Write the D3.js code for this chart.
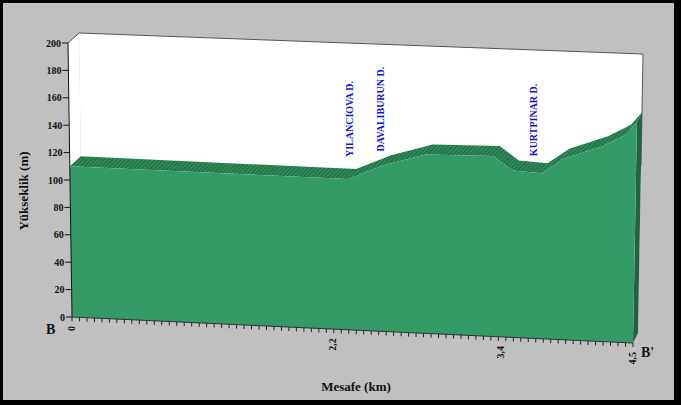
<!DOCTYPE html>
<html><head><meta charset="utf-8">
<script src="https://cdn.jsdelivr.net/npm/d3@7"></script>
<style>body{margin:0;background:#000;} svg{display:block}</style>
</head><body>
<svg id="c" width="681" height="405"></svg>
<script>
// ---- data ----
const profileKm   = [0, 2.30, 2.55, 2.85, 3.33, 3.48, 3.72, 3.90, 4.22, 4.41, 4.5];
const profileElev = [110, 109, 120, 129, 130, 120, 119, 130, 140, 149, 158];
const xTickKm     = [0, 2.2, 3.4, 4.5];
const xTickLabels = ["0", "2,2", "3,4", "4,5"];
const yTicks      = [0, 20, 40, 60, 80, 100, 120, 140, 160, 180, 200];
const streamNames = ["YILANCIOVA D.", "DAVALIBURUN D.", "KURTPINAR D."];
const streamKm    = [2.31, 2.53, 3.65];
const streamElev  = [125, 130, 131];
const minorTickCount = 75;

// ---- setup ----
const W = 681, H = 405;
const svg = d3.select("#c");
const serif = "'Liberation Serif','Times New Roman',serif";

svg.append("rect").attr("width", W).attr("height", H).attr("fill", "#000");
svg.append("rect").attr("x", 3).attr("y", 3).attr("width", 671).attr("height", 397).attr("fill", "#c0c0c0");

// scales: category position (0..1 across the front face) and elevation fraction
const x = d3.scaleLinear().domain(xTickKm).range([0, 0.467, 0.765, 1]);
const y = d3.scaleLinear().domain([0, 200]).range([0, 1]);

// perspective box corners (a: left-bottom, b: left-top, c: right-bottom, d: right-top)
const FRONT = {a: [72, 317], b: [68, 43], c: [633, 343], d: [638, 64]};
const BACK  = {a: [83, 307], b: [79, 33], c: [638, 333], d: [643, 54]};
const lerp = (p, q, t) => [p[0] + (q[0] - p[0]) * t, p[1] + (q[1] - p[1]) * t];
function bil(q, u, v) { return lerp(lerp(q.a, q.c, u), lerp(q.b, q.d, u), v); }
function P(u, v, z) { return lerp(bil(FRONT, u, v), bil(BACK, u, v), z); }
const pts = arr => arr.map(p => p.join(",")).join(" ");

const defs = svg.append("defs");
const pat = defs.append("pattern").attr("id", "hatch").attr("width", 3).attr("height", 3)
  .attr("patternUnits", "userSpaceOnUse").attr("patternTransform", "rotate(45)");
pat.append("rect").attr("width", 3).attr("height", 3).attr("fill", "#2f8a5a");
pat.append("line").attr("x1", 0).attr("y1", 0).attr("x2", 0).attr("y2", 3)
  .attr("stroke", "#1b5636").attr("stroke-width", 1.3);

// walls
svg.append("polygon").attr("points", pts([P(0,0,1), P(0,1,1), P(1,1,1), P(1,0,1)])).attr("fill", "#fff");
svg.append("polygon").attr("points", pts([P(0,0,0), P(0,1,0), P(0,1,1), P(0,0,1)])).attr("fill", "#fff");
svg.append("polyline").attr("points", pts([P(0,1,0), P(0,1,1), P(1,1,1), P(1,0.6,1)]))
  .attr("fill", "none").attr("stroke", "#555").attr("stroke-width", 1);

// series
const front = profileKm.map((k, i) => P(x(k), y(profileElev[i]), 0));
const back  = profileKm.map((k, i) => P(x(k), y(profileElev[i]), 1));
svg.append("polygon").attr("points", pts(front.concat(back.slice().reverse()))).attr("fill", "url(#hatch)");
const last = profileElev.length - 1;
svg.append("polygon").attr("points",
  pts([P(1, y(profileElev[last]), 0), P(1, y(profileElev[last]), 1), P(1, 0, 1), P(1, 0, 0)]))
  .attr("fill", "#1f6340");
svg.append("polygon").attr("points", pts(front.concat([P(1,0,0), P(0,0,0)]))).attr("fill", "#349a68");

// stream labels
streamNames.forEach((n, i) => {
  const p = P(x(streamKm[i]), y(streamElev[i]), 0);
  svg.append("text").attr("transform", `translate(${p[0]},${p[1]}) rotate(-90)`)
    .attr("dominant-baseline", "central").attr("text-anchor", "start")
    .attr("font-family", serif).attr("font-weight", "bold").attr("font-size", 10)
    .attr("fill", "#1010e0").text(n);
});

// y axis
svg.append("line").attr("x1", P(0,0,0)[0]).attr("y1", P(0,0,0)[1]).attr("x2", P(0,1,0)[0]).attr("y2", P(0,1,0)[1])
  .attr("stroke", "#111").attr("stroke-width", 1);
yTicks.forEach(t => {
  const p = P(0, y(t), 0);
  svg.append("line").attr("x1", p[0] - 6).attr("x2", p[0]).attr("y1", p[1]).attr("y2", p[1])
    .attr("stroke", "#111").attr("stroke-width", 1);
  svg.append("text").attr("x", p[0] - 7).attr("y", p[1]).attr("text-anchor", "end")
    .attr("dominant-baseline", "central").attr("font-family", serif).attr("font-weight", "bold")
    .attr("font-size", 10).attr("fill", "#111").text(t);
});

// x axis
svg.append("line").attr("x1", P(0,0,0)[0]).attr("y1", P(0,0,0)[1]).attr("x2", P(1,0,0)[0]).attr("y2", P(1,0,0)[1])
  .attr("stroke", "#333").attr("stroke-width", 1);
d3.range(minorTickCount + 1).forEach(i => {
  const p = P(i / minorTickCount, 0, 0);
  svg.append("line").attr("x1", p[0]).attr("x2", p[0]).attr("y1", p[1]).attr("y2", p[1] + 4)
    .attr("stroke", "#222").attr("stroke-width", 1);
});
xTickKm.forEach((k, i) => {
  const p = P(x(k), 0, 0);
  svg.append("text").attr("transform", `translate(${p[0] - 1},${p[1] + 9}) rotate(-90)`)
    .attr("text-anchor", "end").attr("dominant-baseline", "central")
    .attr("font-family", serif).attr("font-weight", "bold").attr("font-size", 10)
    .attr("fill", "#111").text(xTickLabels[i]);
});

// titles
svg.append("text").attr("x", 356).attr("y", 391).attr("text-anchor", "middle")
  .attr("font-family", serif).attr("font-weight", "bold").attr("font-size", 13).attr("fill", "#111").text("Mesafe (km)");
svg.append("text").attr("transform", "translate(23,191) rotate(-90)").attr("text-anchor", "middle")
  .attr("dominant-baseline", "central").attr("font-family", serif).attr("font-weight", "bold")
  .attr("font-size", 13).attr("fill", "#111").text("Yükseklik (m)");
svg.append("text").attr("x", 46).attr("y", 334).attr("font-family", serif).attr("font-weight", "bold")
  .attr("font-size", 14).attr("fill", "#111").text("B");
svg.append("text").attr("x", 641).attr("y", 357).attr("font-family", serif).attr("font-weight", "bold")
  .attr("font-size", 14).attr("fill", "#111").text("B'");
</script>
</body></html>
